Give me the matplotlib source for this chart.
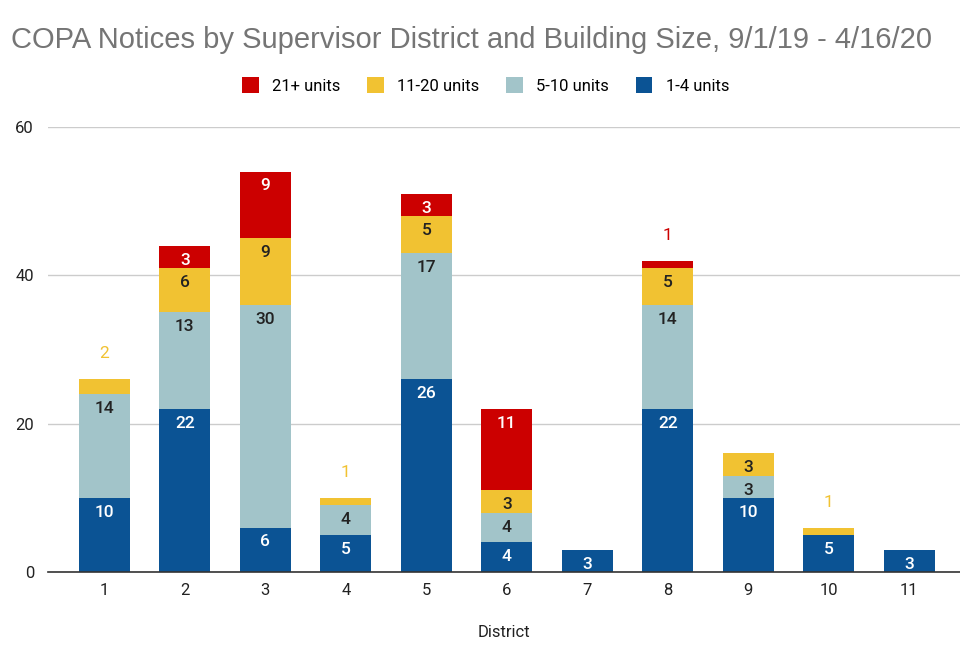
import numpy as np
import matplotlib
matplotlib.use('Agg')
import matplotlib.pyplot as plt

districts = ['1', '2', '3', '4', '5', '6', '7', '8', '9', '10', '11']
units_1_4 = [10, 22, 6, 5, 26, 4, 3, 22, 10, 5, 3]
units_5_10 = [14, 13, 30, 4, 17, 4, 0, 14, 3, 0, 0]
units_11_20 = [2, 6, 9, 1, 5, 3, 0, 5, 3, 1, 0]
units_21 = [0, 3, 9, 0, 3, 11, 0, 1, 0, 0, 0]

series = [
    ('1-4 units', units_1_4, '#0b5394', 'white'),
    ('5-10 units', units_5_10, '#a2c4c9', '#222222'),
    ('11-20 units', units_11_20, '#f1c232', '#222222'),
    ('21+ units', units_21, '#cc0000', 'white'),
]

plt.rcParams['font.family'] = ['Roboto', 'DejaVu Sans']

fig = plt.figure(figsize=(9.6, 6.53), dpi=100)
ax = fig.add_axes([0.05, 0.124, 0.95, 0.6815])

x = np.arange(1, len(districts) + 1)
w = 0.63
bottom = np.zeros(len(districts))
totals = np.sum([s[1] for s in series], axis=0)
handles = []
for name, vals, color, tcolor in series:
    vals = np.array(vals, dtype=float)
    bars = ax.bar(x, vals, w, bottom=bottom, color=color, label=name, zorder=3)
    handles.append(bars)
    for xi, v, b, tot in zip(x, vals, bottom, totals):
        if v == 0:
            continue
        if v <= 2:
            # small segments get their label above the bar, in the series colour
            ax.text(xi, tot + 3.4, '%d' % v, ha='center', va='center',
                    color=color, fontsize=12.5)
        else:
            ax.text(xi, b + v - 1.95, '%d' % v, ha='center', va='center',
                    color=tcolor, fontsize=12.5, fontweight='medium')
    bottom += vals

ax.set_ylim(0, 60)
ax.set_xlim(0.3, 11.63)
ax.set_yticks([0, 20, 40, 60])
ax.set_xticks(x)
ax.set_xticklabels(districts)
ax.yaxis.grid(True, color='#cccccc', linewidth=1, zorder=0)
ax.set_axisbelow(True)
for sp in ['top', 'right', 'left']:
    ax.spines[sp].set_visible(False)
ax.spines['bottom'].set_color('#333333')
ax.spines['bottom'].set_linewidth(1.2)
ax.spines['bottom'].set_zorder(4)
ax.tick_params(axis='both', length=0, labelsize=12, colors='#222222')
ax.tick_params(axis='y', pad=10)
ax.tick_params(axis='x', pad=8)
ax.set_xlabel('District', fontsize=12, color='#222222', labelpad=19)

fig.text(0.011, 0.938, 'COPA Notices by Supervisor District and Building Size, 9/1/19 - 4/16/20',
         fontsize=21, color='#757575', va='center', family=['Liberation Sans', 'DejaVu Sans'])

leg = fig.legend(handles=handles[::-1], loc='center', bbox_to_anchor=(0.506, 0.869), ncol=4,
                 frameon=False, fontsize=12, handlelength=1.0, handleheight=1.1,
                 columnspacing=1.6, handletextpad=0.8)

fig.savefig('out.png', dpi=100)
